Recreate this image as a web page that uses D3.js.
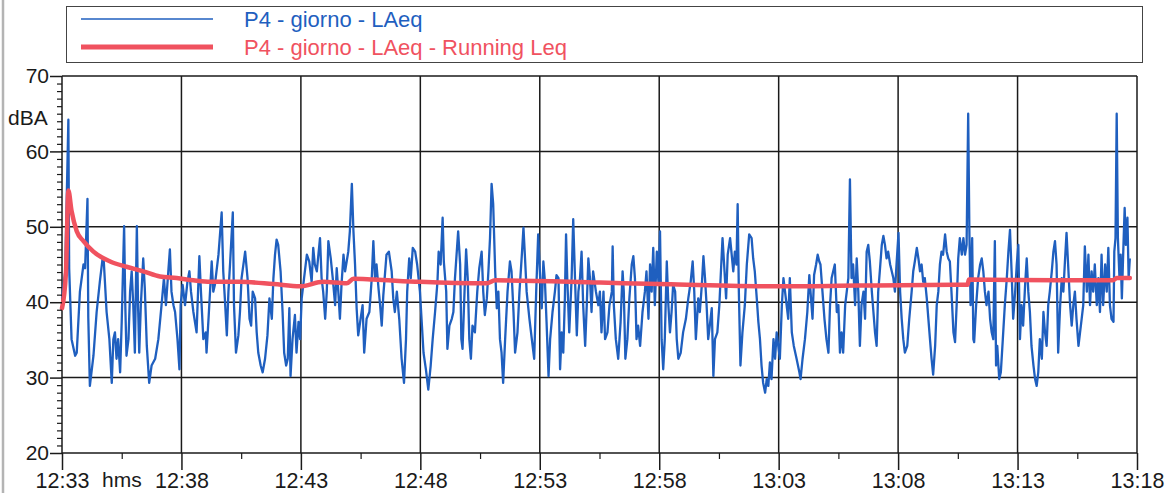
<!DOCTYPE html>
<html><head><meta charset="utf-8">
<script src="https://cdn.jsdelivr.net/npm/d3@7"></script>
<style>html,body{margin:0;padding:0;background:#fff;}svg{display:block;font-family:"Liberation Sans",Arial,sans-serif;}</style>
</head><body>
<svg id="c" width="1169" height="493"></svg>
<script>
// ---- data ----
const tickLabels = ["12:33","12:38","12:43","12:48","12:53","12:58","13:03","13:08","13:13","13:18"];
const yTickValues = [20,30,40,50,60,70];
const seriesNames = ["P4 - giorno - LAeq","P4 - giorno - LAeq - Running Leq"];
const xUnit = "hms", yUnit = "dBA";

// LAeq: seconds after 12:33:00 and level in dBA
const laeqSec = [
0,8,16,18,24,33,37,45,54,58,64,66,70,79,87,95,102,105,112,119,
125,129,133,137,141,146,150,156,159,162,167,171,175,179,183,188,191,194,198,204,
208,213,219,225,234,242,250,256,261,267,271,275,280,284,290,295,298,303,309,315,
320,324,330,338,345,349,355,361,363,368,376,380,384,393,401,405,409,414,418,422,
429,432,437,443,447,
451,460,466,471,475,479,485,489,493,499,504,510,516,521,527,531,535,539,543,549,
554,558,563,567,571,574,579,585,589,594,598,602,608,615,621,627,631,635,640,644,
648,652,656,661,665,669,675,680,686,690,694,698,702,707,711,715,719,723,728,732,
736,740,744,750,755,759,765,772,778,782,786,790,795,799,803,807,815,821,828,832,
836,841,847,853,859,864,867,872,876,881,887,892,899,
908,914,920,926,931,937,943,946,951,956,959,965,968,973,979,983,987,991,995,1000,
1003,1006,1011,1015,1019,1023,1027,1031,1037,1043,1048,1054,1058,1062,1067,1071,1075,1079,1083,1088,
1092,1096,1100,1104,1108,1113,1119,1125,1129,1134,1138,1144,1149,1155,1159,1163,1167,1174,1180,1186,
1191,1196,1201,1205,1209,1213,1217,1222,1226,1232,1238,1242,1247,1251,1255,1259,1263,1266,1269,1274,
1280,1284,1289,1293,1297,1301,1305,1309,1314,1318,1322,1326,1330,1334,1341,1347,1351,
1355,1360,1364,1370,1375,1381,1383,1386,1391,1397,1403,1408,1411,1415,1420,1425,1431,1435,1439,1443,
1447,1452,1458,1464,1468,1473,1477,1481,1485,1489,1494,1498,1502,1506,1510,1514,1519,1523,1527,1531,
1535,1540,1544,1548,1554,1560,1567,1573,1579,1584,1588,1592,1598,1602,1607,1611,1615,1619,1623,1627,
1632,1636,1640,1646,1651,1655,1659,1663,1668,1672,1678,1682,1686,1690,1694,1697,1700,1704,1709,1715,
1720,1726,1732,1736,1740,1745,1749,1753,1757,1761,1766,1770,1774,1778,1782,1787,1791,1795,1799,
1803,1808,1812,1816,1820,1824,1828,1833,1838,1845,1852,1855,1860,1866,1872,1877,1880,1885,1889,1894,
1898,1902,1905,1910,1915,1920,1925,1929,1933,1937,1941,1946,1950,1954,1958,1962,1967,1971,1975,1979,
1983,1987,1992,1996,2000,2004,2008,2013,2017,2021,2025,2029,2034,2038,2042,2046,2050,2054,2059,2063,
2067,2071,2075,2080,2084,2088,2092,2096,2101,2105,2109,2113,2117,2123,2128,2134,2138,2142,2147,2151,
2155,2159,2163,2167,2172,2176,2180,2184,2188,2193,2197,2201,2205,2209,2213,2218,2222,2226,2230,2234,
2239,2243,2247,2251,
2255,2260,2264,2268,2272,2276,2279,2282,2286,2289,2291,2296,2301,2306,2310,2314,2318,2322,2327,2331,
2335,2339,2343,2346,2349,2354,2358,2363,2368,2373,2377,2381,2385,2389,2394,2398,2402,2406,2410,2414,
2419,2423,2427,2431,2435,2440,2444,2448,2452,2456,2461,2465,2469,2473,2477,2481,2486,2490,2494,2498,
2502,2507,2511,2515,2519,2523,2527,2532,2536,2540,2544,2548,2553,2557,2561,2565,2569,2574,2578,2582,
2586,2590,2594,2599,2603,2607,2611,2615,2620,2624,2628,2632,2636,2641,2643,2646,2649,2652,2656,2659,
2662,2666,2669,2672,2676,2679,2682
];
const laeqDb = [
40.5,44.0,64.2,44.5,35.1,32.9,33.3,41.4,45.0,44.5,53.7,38.0,28.9,32.9,38.7,42.7,45.8,45.4,38.7,35.1,
29.3,35.1,36.0,32.5,35.1,30.7,37.4,50.1,39.6,32.9,35.1,41.4,44.1,39.6,33.3,50.1,39.6,33.3,39.6,45.8,
41.8,34.2,29.3,31.6,32.5,35.1,39.6,43.2,39.6,44.1,47.0,41.4,39.6,38.7,35.1,31.1,39.6,42.3,39.6,42.7,
44.1,41.4,38.7,36.0,46.1,41.4,35.1,36.0,33.3,37.8,45.4,41.4,42.3,46.3,51.9,44.1,40.5,35.6,41.4,45.0,
51.9,39.6,33.3,35.6,38.7,
43.2,46.7,43.2,37.8,36.9,41.4,40.5,36.0,33.3,31.6,30.7,32.5,35.6,40.5,37.8,43.2,46.3,48.3,47.6,44.1,
38.7,33.3,31.6,32.5,39.2,30.2,35.1,38.3,33.3,37.4,35.1,40.5,43.2,46.3,45.4,42.7,47.2,45.0,44.1,46.3,
48.5,43.2,41.4,37.8,41.4,48.1,45.8,43.2,39.6,44.5,41.4,37.8,42.3,46.3,44.1,45.4,46.7,49.4,55.7,49.4,
45.0,39.2,35.6,37.8,39.6,33.3,37.8,38.7,43.2,48.1,43.2,45.0,41.8,39.6,36.9,40.9,46.3,46.7,44.1,40.5,
38.7,41.4,37.8,32.5,29.3,35.1,41.4,45.8,43.2,47.2,46.7,45.0,41.4,
33.3,31.1,28.4,31.6,35.1,38.7,42.7,46.7,45.0,51.2,45.4,41.4,33.8,36.9,37.8,38.7,43.2,46.3,49.4,45.0,
35.1,33.8,41.4,47.0,43.2,35.1,32.5,36.9,36.0,41.4,44.5,46.7,41.4,38.3,40.5,44.1,48.5,55.7,53.0,44.1,
39.2,41.4,35.1,33.3,29.3,35.1,41.4,45.4,44.1,38.7,33.3,36.0,41.4,46.3,49.9,45.8,41.4,37.8,35.1,32.5,
41.4,49.0,43.2,39.2,45.4,42.7,37.4,30.2,35.1,38.7,41.4,43.6,43.2,31.1,36.0,33.3,40.5,49.0,43.2,36.0,
43.2,51.0,42.3,35.6,41.4,43.2,46.7,39.6,34.2,39.6,45.8,43.2,38.7,44.1,41.4,39.6,41.4,
36.0,41.4,35.1,36.0,39.6,41.4,47.4,39.6,35.1,32.5,37.4,44.1,41.4,32.5,35.1,40.5,45.0,46.1,43.2,35.1,
36.9,34.2,38.7,41.4,44.1,37.8,45.0,41.4,47.2,39.6,46.7,42.7,49.4,35.1,31.1,35.1,45.4,39.6,36.0,38.7,
42.3,41.4,35.1,32.5,33.3,36.0,37.8,40.5,42.7,45.4,41.4,35.1,40.5,38.7,42.3,46.1,43.2,39.6,35.1,36.9,
39.2,30.2,35.1,36.0,39.6,44.1,48.5,45.0,40.5,46.3,48.5,46.3,44.1,46.7,45.0,53.0,41.4,31.6,36.0,39.6,
45.0,49.0,48.5,45.8,44.1,40.5,37.4,35.1,31.6,29.3,28.0,29.8,28.9,32.0,29.8,35.1,32.5,36.0,34.2,
32.5,39.6,43.2,41.4,39.6,37.8,43.2,36.0,34.2,32.5,30.7,29.8,32.5,35.1,38.7,43.6,41.4,37.8,43.6,45.0,
46.3,45.4,45.0,41.4,37.8,35.1,33.3,39.6,43.2,44.1,45.0,38.7,39.6,33.3,36.0,33.3,39.6,41.4,43.2,56.3,
43.2,45.0,39.6,45.8,41.4,34.2,39.6,41.4,37.8,46.7,47.6,45.4,41.4,38.7,36.0,34.2,41.4,44.1,47.6,48.8,
47.6,45.8,46.7,45.0,44.1,43.2,41.4,45.0,49.2,41.4,37.8,35.1,33.3,34.2,37.8,41.4,44.1,45.4,47.2,45.8,
44.1,45.0,42.7,43.2,40.5,37.8,35.1,32.5,30.4,34.2,39.6,41.4,45.0,46.7,46.3,49.0,46.7,45.8,45.4,41.4,
36.0,34.7,39.6,45.8,
48.5,46.3,48.5,46.3,47.6,65.0,49.4,39.6,48.5,35.1,34.7,39.6,43.2,45.0,45.8,44.1,41.4,39.6,41.4,37.8,
36.0,35.1,48.1,31.6,34.2,29.8,30.7,35.1,39.6,43.2,46.7,49.6,44.1,37.8,41.4,45.0,47.6,35.1,39.6,36.9,
42.3,45.8,41.4,38.7,34.2,31.6,29.8,28.9,30.7,35.1,32.5,38.7,36.0,34.2,39.6,41.4,44.1,46.7,48.1,45.0,
33.3,39.6,43.2,41.4,45.4,49.2,45.0,39.6,36.9,39.6,41.4,37.8,34.2,36.0,37.8,39.6,47.4,41.4,46.3,39.6,
44.1,41.4,45.0,39.6,43.2,38.7,46.3,39.6,45.0,41.4,47.2,39.6,37.8,37.4,46.7,48.5,65.0,48.5,43.2,46.3,
40.5,47.6,52.5,47.6,51.2,43.2,45.8
];
// Running Leq
const runSec = [0,10,16,24,37,54,79,121,162,204,246,288,330,372,447,531,598,656,715,732,
782,899,1067,1088,1351,1500,1803,2000,2255,2274,2278,2500,2640,2649,2682];
const runDb = [39.2,44.0,54.8,52.1,49.4,48.1,46.7,45.4,44.7,44.1,43.4,43.2,42.9,42.7,42.7,42.4,42.1,42.7,42.5,43.1,
43.0,42.7,42.5,42.9,42.6,42.4,42.1,42.2,42.3,42.3,43.0,42.9,42.9,43.2,43.2];

// ---- drawing ----
const blue = "#1f5fbf", red = "#f0525f", ink = "#1a1a1a";
const svg = d3.select("#c");
const x = d3.scaleLinear().domain([0, (tickLabels.length - 1) * 300]).range([62, 1137]);
const y = d3.scaleLinear().domain([20, 70]).range([453, 76]);
const majorSec = tickLabels.map((_, i) => i * 300);
const minorSec = d3.range(150, (tickLabels.length - 1) * 300, 300);

// scan page edge
svg.append("line").attr("x1", 3).attr("x2", 3).attr("y1", 0).attr("y2", 493)
  .attr("stroke", "#b4b4b4").attr("stroke-width", 2.5);

// legend
const lg = svg.append("g");
lg.append("rect").attr("x", 66.5).attr("y", 6.5).attr("width", 1076).attr("height", 56)
  .attr("fill", "none").attr("stroke", "#444").attr("stroke-width", 1);
const legendItems = [{name: seriesNames[0], color: blue, w: 1.5, yy: 19},
                     {name: seriesNames[1], color: red, w: 5, yy: 47}];
legendItems.forEach(d => {
  lg.append("line").attr("x1", 81).attr("x2", 213).attr("y1", d.yy).attr("y2", d.yy)
    .attr("stroke", d.color).attr("stroke-width", d.w);
  lg.append("text").attr("x", 244).attr("y", d.yy + 8).attr("fill", d.color)
    .attr("font-size", 22).text(d.name);
});

// grid
const grid = svg.append("g").attr("stroke", ink).attr("stroke-width", 1.5);
yTickValues.forEach(v => grid.append("line").attr("x1", x(0)).attr("x2", x(majorSec[majorSec.length-1]))
  .attr("y1", y(v)).attr("y2", y(v)));
majorSec.forEach(s => grid.append("line").attr("x1", x(s)).attr("x2", x(s))
  .attr("y1", y(70)).attr("y2", y(20)));

// series
const pts = d3.range(Math.min(laeqSec.length, laeqDb.length)).map(i => [laeqSec[i], laeqDb[i]]);
const line = d3.line().x(d => x(d[0])).y(d => y(d[1]));
svg.append("path").datum(pts).attr("d", line).attr("fill", "none")
  .attr("stroke", blue).attr("stroke-width", 2.3).attr("stroke-linejoin", "round");
const rpts = runSec.map((s, i) => [s, runDb[i]]);
svg.append("path").datum(rpts).attr("d", line.curve(d3.curveMonotoneX)).attr("fill", "none")
  .attr("stroke", red).attr("stroke-width", 4.5).attr("stroke-linejoin", "round").attr("stroke-linecap", "round");

// axes
const font = s => g => g.selectAll("text").attr("font-size", s).attr("fill", ink).attr("font-family", "Liberation Sans, Arial, sans-serif");
const yMinor = d3.range(21, 70).filter(v => v % 10 !== 0);
svg.append("g").attr("transform", "translate(62,0)")
  .call(d3.axisLeft(y).tickValues(yMinor).tickSize(5).tickFormat(""))
  .call(g => g.select(".domain").remove())
  .call(g => g.selectAll("line").attr("stroke", ink).attr("stroke-width", 1.2));
svg.append("g").attr("transform", "translate(62,0)")
  .call(d3.axisLeft(y).tickValues(yTickValues).tickSize(12).tickPadding(1).tickFormat(d3.format("d")))
  .call(g => g.select(".domain").remove())
  .call(g => g.selectAll("line").attr("stroke", ink).attr("stroke-width", 1.5))
  .call(font(21));
svg.append("g").attr("transform", "translate(0,453)")
  .call(d3.axisBottom(x).tickValues(minorSec).tickSize(6).tickFormat(""))
  .call(g => g.select(".domain").remove())
  .call(g => g.selectAll("line").attr("stroke", ink).attr("stroke-width", 1.2));
svg.append("g").attr("transform", "translate(0,453)")
  .call(d3.axisBottom(x).tickValues(majorSec).tickSize(17).tickPadding(3).tickFormat((d, i) => tickLabels[i]))
  .call(g => g.select(".domain").remove())
  .call(g => g.selectAll("line").attr("stroke", ink).attr("stroke-width", 1.5))
  .call(font(21.5));

svg.append("text").attr("x", 102).attr("y", 487).attr("font-size", 21).attr("fill", ink).text(xUnit);
svg.append("text").attr("x", 8).attr("y", 125).attr("font-size", 21).attr("fill", ink).text(yUnit);
</script>
</body></html>
